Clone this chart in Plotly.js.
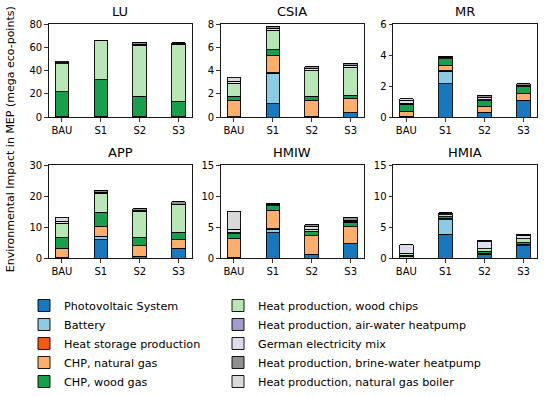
<!DOCTYPE html>
<html><head><meta charset="utf-8">
<script src="https://cdn.plot.ly/plotly-3.0.1.min.js"></script>
<style>html,body{margin:0;padding:0;background:#fff}</style>
</head><body><div id="chart" style="width:550px;height:396px"></div>
<script>
const scenarios = ['BAU','S1','S2','S3'];
const components = ['Photovoltaic System','Battery','Heat storage production','CHP, natural gas','CHP, wood gas',
  'Heat production, wood chips','Heat production, air-water heatpump','German electricity mix',
  'Heat production, brine-water heatpump','Heat production, natural gas boiler'];
const colors = ['#1878be','#8ccbe4','#f25a14','#fdae6b','#17a04c','#b9e6b6','#a19dcb','#dcdcec','#8f8f8f','#d9d9d9'];
const legendColumn = ['legend','legend','legend','legend','legend','legend2','legend2','legend2','legend2','legend2'];
const panelNames = ['LU','CSIA','MR','APP','HMIW','HMIA'];
const yMax = [80,8,6,30,15,15];
const yStep = [20,2,2,10,5,5];
// rows follow `components`, columns follow `scenarios`
const LU = [
  [0,0.3,0.1,0.2],[0,0.2,0,0],[0,0,0,0],[0.3,0.3,0.3,0.3],[21.5,31.6,17.7,13.3],
  [24.2,33.2,43.7,49.1],[0,0,0,0],[0.9,0.2,0.9,0.3],[0,0.4,1.6,1.0],[0.8,0,0,0]];
const CSIA = [
  [0.03,1.16,0.08,0.37],[0,2.6,0,0],[0,0.05,0,0],[1.4,1.5,1.37,1.28],[0.37,0.48,0.37,0.25],
  [1.1,1.7,2.18,2.38],[0,0,0,0],[0.2,0.15,0.15,0.15],[0,0.2,0.2,0.22],[0.3,0,0,0]];
const MR = [
  [0.05,2.16,0.28,1.09],[0,0.8,0,0],[0,0.03,0.05,0],[0.33,0.35,0.33,0.43],[0.45,0.42,0.39,0.43],
  [0.08,0.08,0.08,0.08],[0,0,0,0],[0.17,0.04,0.17,0.04],[0,0.06,0.11,0.1],[0.12,0,0,0]];
const APP = [
  [0.3,6.0,0.6,3.3],[0,0.9,0,0],[0,0.2,0.1,0],[3.0,3.3,3.3,2.7],[3.5,4.5,2.8,2.4],
  [4.5,6.0,8.3,8.9],[0,0,0,0],[0.7,0.4,0.2,0.2],[0,0.6,0.7,0.8],[1.3,0,0,0]];
const HMIW = [
  [0.15,4.15,0.55,2.35],[0,0.5,0,0],[0,0.1,0.1,0],[3.0,3.0,3.0,2.75],[0.85,0.7,0.75,0.75],
  [0.1,0.15,0.25,0.15],[0,0,0,0],[0.6,0.1,0.5,0.1],[0,0.15,0.3,0.5],[2.9,0,0,0]];
const HMIA = [
  [0.05,3.9,0.65,2.0],[0,2.3,0,0],[0,0.05,0.05,0],[0.2,0.15,0.15,0.2],[0.25,0.3,0.3,0.35],
  [0.35,0.35,0.4,0.65],[0,0,0,0],[1.35,0.15,1.1,0.55],[0,0.17,0.25,0.15],[0,0,0,0]];
const panelData = [LU,CSIA,MR,APP,HMIW,HMIA];

const W = 550, H = 396;
const colPx = [[48.6,192],[220.6,364],[393,537]];
const rowPx = [[24.5,118.7],[167.3,261.7]];
const font = 'DejaVu Sans, sans-serif';

const legendStyle = (xpx) => ({orientation:'v', x:xpx/W, xanchor:'left', y:1-295/H, yanchor:'top',
  traceorder:'normal', font:{size:11.2, family:font, color:'#000'}, bgcolor:'rgba(0,0,0,0)', tracegroupgap:0});
const traces = [];
const layout = {
  width: W, height: H, margin:{l:0,r:0,t:0,b:0}, paper_bgcolor:'#fff', plot_bgcolor:'#fff',
  barmode:'stack', bargap:0, font:{family:font, size:10, color:'#000'},
  showlegend:true,
  legend: legendStyle(24),
  legend2: legendStyle(218),
  annotations:[],
};
panelNames.forEach((name, p) => {
  const r = Math.floor(p/3), c = p%3;
  const sfx = p === 0 ? '' : String(p+1);
  const xd = [colPx[c][0]/W, colPx[c][1]/W];
  const yd = [1-rowPx[r][1]/H, 1-rowPx[r][0]/H];
  const axCommon = {showline:true, mirror:true, linecolor:'#000', linewidth:0.9, ticks:'outside',
    ticklen:3.5, tickwidth:0.8, tickcolor:'#000', showgrid:false, zeroline:false,
    tickfont:{size:10, family:font, color:'#000'}};
  layout['xaxis'+sfx] = Object.assign({}, axCommon, {domain:xd, anchor:'y'+sfx, type:'category',
    range:[-0.3425,3.3425], categoryorder:'array', categoryarray:scenarios});
  layout['yaxis'+sfx] = Object.assign({}, axCommon, {domain:yd, anchor:'x'+sfx, range:[0,yMax[p]],
    dtick:yStep[p], tick0:0});
  layout.annotations.push({text:name, xref:'paper', yref:'paper', x:(xd[0]+xd[1])/2, y:yd[1],
    xanchor:'center', yanchor:'bottom', yshift:3, showarrow:false, font:{size:13, family:font}});
  components.forEach((comp, k) => {
    traces.push({type:'bar', name:comp, x:scenarios, y:panelData[p][k], width:0.35,
      xaxis:'x'+sfx, yaxis:'y'+sfx, legendgroup:comp, showlegend:p===0, legend:legendColumn[k],
      marker:{color:colors[k], line:{color:'#000', width:0.9}}, hoverinfo:'name+y'});
  });
});
layout.annotations.push({text:'Environmental Impact in MEP (mega eco-points)', xref:'paper', yref:'paper',
  x:10/W, y:1-141/H, textangle:-90, showarrow:false, xanchor:'center', yanchor:'middle',
  font:{size:11, family:font}});
Plotly.newPlot('chart', traces, layout, {staticPlot:true, displayModeBar:false});
</script></body></html>
